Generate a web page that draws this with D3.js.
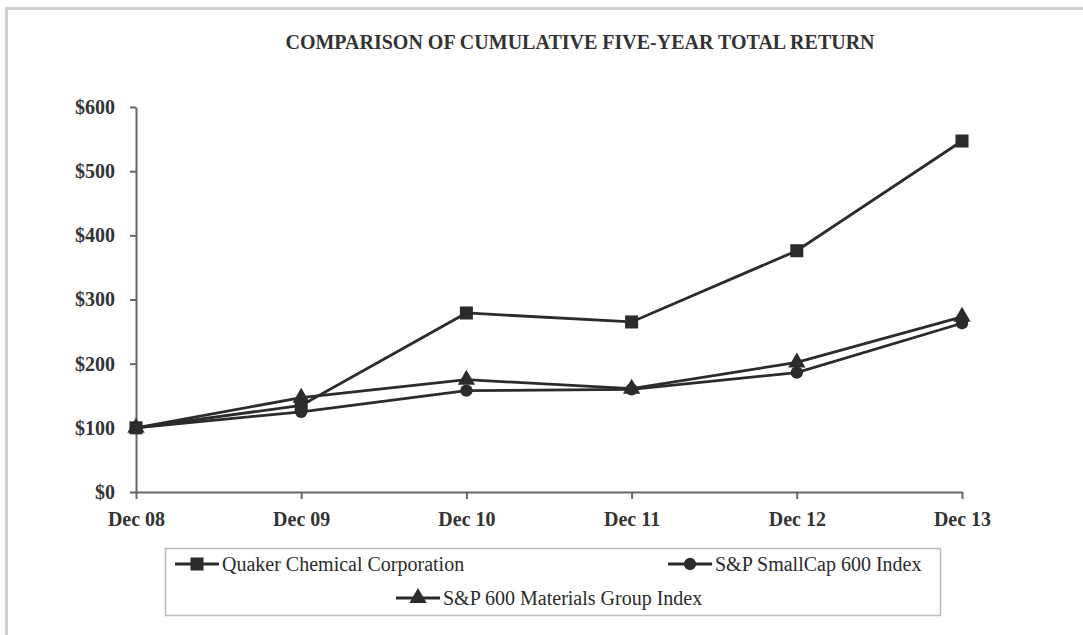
<!DOCTYPE html>
<html>
<head>
<meta charset="utf-8">
<script src="https://cdn.jsdelivr.net/npm/d3@7"></script>
<style>
  body { margin: 0; background: #fff; }
  svg { display: block; }
  .axis text { font-family: "Liberation Serif", "Times New Roman", serif; font-weight: bold; font-size: 20px; fill: #333; }
  .axis path, .axis line { stroke: #666; stroke-width: 2; }
  .series { fill: none; stroke: #2b2b2b; stroke-width: 2.8; }
  .legendText { font-family: "Liberation Serif", "Times New Roman", serif; font-size: 20px; fill: #2b2b2b; }
</style>
</head>
<body>
<script>
/* chart data */
var years = ["Dec 08", "Dec 09", "Dec 10", "Dec 11", "Dec 12", "Dec 13"]
var quaker = [100, 135, 279, 265, 376, 547]
var smallCap = [100, 125, 158, 160, 186, 263]
var materials = [100, 147, 175, 161, 202, 273]
var seriesNames = ["Quaker Chemical Corporation", "S&P SmallCap 600 Index", "S&P 600 Materials Group Index"]
var yTicks = [0, 100, 200, 300, 400, 500, 600]

var W = 1083, H = 635
var margin = {left: 136, right: 121, top: 107, bottom: 143}

var svg = d3.select("body").append("svg")
  .attr("width", W)
  .attr("height", H)

/* faint frame along the top and left edge */
svg.append("path")
  .attr("d", "M6.5," + H + " V8.5 H" + W)
  .attr("fill", "none")
  .attr("stroke", "#d0d0d0")
  .attr("stroke-width", 3)

svg.append("text")
  .attr("x", 580)
  .attr("y", 49)
  .attr("text-anchor", "middle")
  .attr("font-family", "Liberation Serif, serif")
  .attr("font-weight", "bold")
  .attr("font-size", 20)
  .attr("fill", "#333")
  .text("COMPARISON OF CUMULATIVE FIVE-YEAR TOTAL RETURN")

var x = d3.scalePoint()
  .domain(years)
  .range([margin.left, W - margin.right])

var y = d3.scaleLinear()
  .domain([0, 600])
  .range([H - margin.bottom, margin.top])

var yAxis = d3.axisLeft(y)
  .tickValues(yTicks)
  .tickSize(6)
  .tickSizeOuter(0)
  .tickPadding(15)
  .tickFormat(function(d) { return "$" + d })

var xAxis = d3.axisBottom(x)
  .tickSize(7)
  .tickSizeOuter(0)
  .tickPadding(13)

svg.append("g")
  .attr("class", "axis")
  .attr("transform", "translate(" + margin.left + ",0)")
  .call(yAxis)

svg.append("g")
  .attr("class", "axis")
  .attr("transform", "translate(0," + (H - margin.bottom) + ")")
  .call(xAxis)

/* series lines and markers */
var shapes = [d3.symbolSquare, d3.symbolCircle, d3.symbolTriangle]
var sizes = [170, 120, 130]
var allSeries = [quaker, smallCap, materials]

var line = d3.line()
  .x(function(d, i) { return x(years[i]) })
  .y(function(d) { return y(d) })

// draw in reverse so Quaker sits on top
;[2, 1, 0].forEach(function(k) {
  var vals = allSeries[k]
  svg.append("path")
    .datum(vals)
    .attr("class", "series")
    .attr("d", line)

  svg.append("g").selectAll("path")
    .data(vals)
    .enter()
    .append("path")
    .attr("d", d3.symbol().type(shapes[k]).size(sizes[k]))
    .attr("transform", function(d, i) {
      return "translate(" + x(years[i]) + "," + y(d) + ")"
    })
    .attr("fill", "#2b2b2b")
})

/* legend */
var legend = svg.append("g")
legend.append("rect")
  .attr("x", 165.5)
  .attr("y", 548.5)
  .attr("width", 775)
  .attr("height", 67)
  .attr("fill", "none")
  .attr("stroke", "#bbb")
  .attr("stroke-width", 1.5)

var legendPos = [[175, 564], [668, 564], [396, 598]]
legendPos.forEach(function(p, k) {
  var g = legend.append("g").attr("transform", "translate(" + p[0] + "," + p[1] + ")")
  g.append("line")
    .attr("x1", 0).attr("x2", 44)
    .attr("stroke", "#2b2b2b")
    .attr("stroke-width", 2.8)
  g.append("path")
    .attr("d", d3.symbol().type(shapes[k]).size(sizes[k]))
    .attr("transform", "translate(22,0)")
    .attr("fill", "#2b2b2b")
  g.append("text")
    .attr("class", "legendText")
    .attr("x", 47)
    .attr("dy", "0.35em")
    .text(seriesNames[k])
})
</script>
</body>
</html>
